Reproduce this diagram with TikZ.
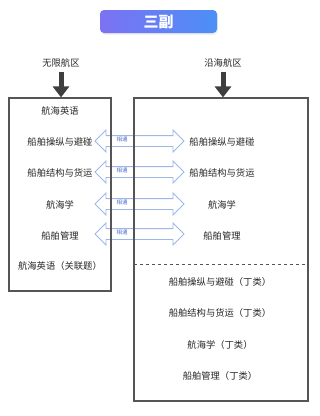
\documentclass[tikz,border=0pt]{standalone}
\usepackage{fontspec}
\setmainfont{Noto Sans CJK SC}
\usepackage{tikz}
\usetikzlibrary{shapes.arrows,arrows.meta,shadows}

\definecolor{boxgray}{HTML}{555555}
\definecolor{darrow}{HTML}{3F3F3F}
\definecolor{linkblue}{HTML}{9DB7E6}
\definecolor{linktext}{HTML}{4A6CCB}
\definecolor{titleL}{HTML}{7B72F2}
\definecolor{titleR}{HTML}{4C8FF7}

\tikzset{
  subj/.style={font=\fontsize{9.3}{10}\selectfont, text=black!85},
  area/.style={draw=boxgray, line width=1.1pt, minimum width=#1},
  bigdown/.style={darrow, line width=5pt, -{Triangle[width=16pt,length=11pt]}},
  link/.style={double arrow, draw=linkblue, fill=white, line width=0.8pt,
               minimum height=89pt, inner xsep=0pt, inner ysep=5pt,
               double arrow head extend=5.5pt, double arrow head indent=0pt},
  linklabel/.style={font=\fontsize{5.5}{6}\selectfont, text=linktext, inner sep=0pt}
}

\begin{document}
\begin{tikzpicture}[x=1pt,y=-1pt]
  \useasboundingbox (0,0) rectangle (320,416);

  % title
  \node[rounded corners=4pt, minimum width=117pt, minimum height=23pt,
        left color=titleL, right color=titleR, draw=none,
        drop shadow={opacity=0.15, shadow xshift=1pt, shadow yshift=-1.5pt},
        text=white, font=\bfseries\fontsize{15}{16}\selectfont] (title) at (158.5,21.5) {三副};

  % connecting arrows (behind the boxes)
  \foreach \y/\n in {141/1,172/2,204/3,234/4}{
    \node[link] (link\n) at (139.5,\y) {};
    \node[linklabel] (tong\n) at (122,\y-1.5) {相通};
  }

  % boxes
  \node[area=102pt, minimum height=193pt] (leftbox) at (60,194.5) {};
  \node[area=174pt, minimum height=303pt] (rightbox) at (221,249.5) {};
  \coordinate (dl) at (134,264);
  \coordinate (dr) at (308,264);
  \draw[boxgray, dashed, line width=0.8pt] (dl) -- (dr);

  % headings
  \node[subj] (wuxian) at (61,63) {无限航区};
  \node[subj] (yanhai) at (223,63) {沿海航区};
  \draw[bigdown] (wuxian.south) ++(0,1) -- (leftbox.north -| wuxian);
  \draw[bigdown] (yanhai.south) ++(0,1) -- (rightbox.north -| yanhai);

  % left subjects
  \node[subj] (l1) at (60,111) {航海英语};
  \node[subj] (l2) at (60,142) {船舶操纵与避碰};
  \node[subj] (l3) at (60,173) {船舶结构与货运};
  \node[subj] (l4) at (60,205) {航海学};
  \node[subj] (l5) at (60,236) {船舶管理};
  \node[subj] (l6) at (60,266) {航海英语（关联题）};

  % right subjects
  \node[subj] (r1) at (222,142) {船舶操纵与避碰};
  \node[subj] (r2) at (222,173) {船舶结构与货运};
  \node[subj] (r3) at (222,205) {航海学};
  \node[subj] (r4) at (222,236) {船舶管理};
  \node[subj] (r5) at (220,282) {船舶操纵与避碰（丁类）};
  \node[subj] (r6) at (220,313) {船舶结构与货运（丁类）};
  \node[subj] (r7) at (220,345) {航海学（丁类）};
  \node[subj] (r8) at (220,376) {船舶管理（丁类）};
\end{tikzpicture}
\end{document}
